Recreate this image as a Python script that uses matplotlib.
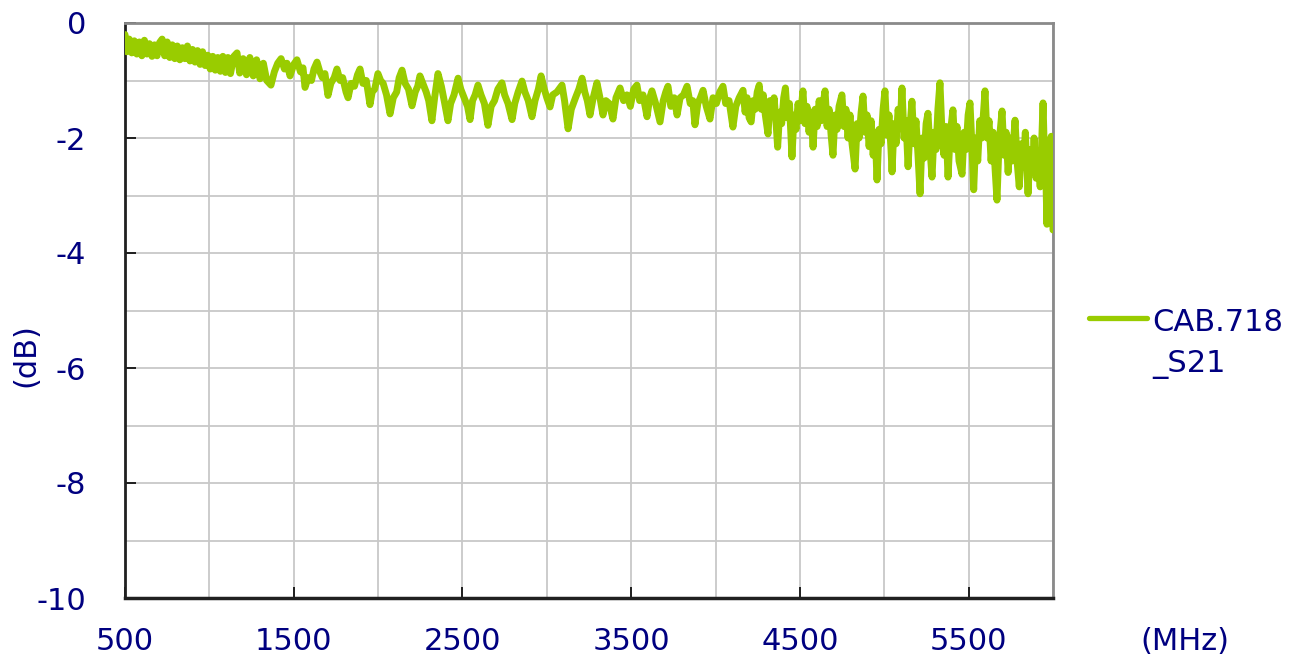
import matplotlib
matplotlib.use("Agg")
import matplotlib.pyplot as plt
from matplotlib.lines import Line2D
from matplotlib.ticker import MultipleLocator, FixedLocator

# ---- data ----
freq_mhz = [
    500, 510, 525, 540, 555, 570, 585, 600, 615, 630, 645, 660, 675, 690, 705,
    720, 735, 750, 765, 780, 795, 810, 825, 840, 855, 870, 885, 900, 915, 930,
    945, 960, 975, 990, 1005, 1020, 1035, 1050, 1065, 1080, 1095, 1110, 1125,
    1145, 1164, 1180, 1200, 1220, 1240, 1260, 1280, 1300, 1320, 1340, 1365,
    1385, 1405, 1425, 1445, 1460, 1478, 1500, 1519,
    1540, 1555, 1567, 1585, 1605, 1620, 1638, 1655, 1670, 1685, 1703, 1720,
    1740, 1756, 1775, 1790, 1810, 1822, 1840, 1860, 1878, 1893, 1910, 1930,
    1952, 1965, 1980, 1999, 2015, 2030, 2050, 2071, 2090, 2110, 2125, 2142,
    2160, 2180, 2201, 2220, 2235, 2248, 2265, 2285, 2300, 2319, 2335, 2355,
    2375, 2395, 2414, 2430, 2450, 2474, 2490, 2510, 2530, 2545, 2560, 2575,
    2592, 2610, 2630, 2651, 2670, 2690, 2710, 2734, 2750, 2770, 2794, 2810,
    2830, 2853, 2870, 2890, 2912, 2930, 2950, 2966, 2985, 3000, 3019, 3035,
    3060, 3090, 3105, 3126, 3145, 3170, 3190, 3209, 3225, 3240, 3256, 3275,
    3297, 3315, 3333, 3350, 3370, 3392, 3410, 3434, 3455, 3475, 3495, 3515,
    3534, 3550, 3570, 3594, 3610, 3623, 3645, 3671, 3690, 3705, 3718, 3735,
    3755, 3772, 3790, 3810, 3831, 3850, 3865, 3878, 3895, 3910, 3926, 3945,
    3967, 3985, 4005, 4025, 4044, 4060, 4080, 4103, 4120, 4140,
    4163, 4175, 4187, 4199, 4211, 4223, 4235, 4247, 4259, 4271, 4283, 4295,
    4311, 4323, 4335, 4347, 4359, 4368, 4380, 4392, 4404, 4414, 4426, 4438,
    4453, 4465, 4477, 4489, 4501, 4518, 4530, 4542, 4554, 4566, 4578, 4590,
    4602, 4614, 4626, 4638, 4649, 4661, 4673, 4685, 4696, 4708, 4720, 4732,
    4749, 4761, 4773, 4785, 4797, 4809, 4827, 4839, 4851, 4863, 4874, 4886,
    4898, 4910, 4922, 4934, 4946, 4957, 4969, 4981, 4993, 5004, 5016, 5028,
    5040, 5046, 5058, 5070, 5082, 5094, 5105, 5117, 5129, 5141, 5153, 5164,
    5176, 5188, 5200, 5212, 5224, 5236, 5248, 5259, 5271, 5283, 5295, 5307,
    5318, 5330, 5342, 5354, 5366, 5378, 5390, 5407, 5419, 5431, 5443, 5461,
    5473, 5485, 5497, 5508, 5519, 5530, 5542, 5554, 5566, 5578, 5597, 5609,
    5621, 5633, 5645, 5657, 5668, 5680, 5698, 5710, 5722, 5734, 5746, 5758,
    5775, 5787, 5800, 5812, 5824, 5836, 5852, 5864, 5876, 5888, 5900, 5912,
    5924, 5941, 5950, 5958, 5964, 5972, 5980, 5990, 6000,
]
s21_db = [
    -0.20, -0.50, -0.28, -0.52, -0.31, -0.54, -0.33, -0.57, -0.30, -0.54,
    -0.36, -0.58, -0.38, -0.57, -0.34, -0.28, -0.57, -0.33, -0.60, -0.38,
    -0.62, -0.40, -0.64, -0.43, -0.62, -0.40, -0.66, -0.46, -0.68, -0.48,
    -0.72, -0.50, -0.74, -0.56, -0.80, -0.58, -0.82, -0.60, -0.84, -0.58,
    -0.86, -0.60, -0.88, -0.58, -0.52, -0.87, -0.62, -0.90, -0.60, -0.92,
    -0.64, -0.97, -0.70, -1.00, -1.08, -0.85, -0.70, -0.62, -0.80, -0.70,
    -0.92, -0.72, -0.64,
    -0.85, -0.78, -1.12, -0.95, -1.00, -0.80, -0.68, -0.85, -0.95, -0.88,
    -1.26, -1.05, -0.95, -0.80, -1.00, -0.95, -1.20, -1.30, -1.05, -1.10,
    -0.90, -0.80, -1.05, -1.00, -1.42, -1.20, -1.15, -0.88, -1.00, -1.05,
    -1.25, -1.58, -1.30, -1.20, -0.95, -0.82, -1.05, -1.15, -1.44, -1.20,
    -1.10, -0.92, -1.05, -1.20, -1.35, -1.70, -1.30, -0.88, -1.10, -1.40,
    -1.70, -1.40, -1.25, -0.96, -1.15, -1.30, -1.45, -1.68, -1.35, -1.25,
    -1.08, -1.25, -1.40, -1.78, -1.45, -1.35, -1.15, -1.04, -1.25, -1.40,
    -1.68, -1.40, -1.20, -1.01, -1.20, -1.35, -1.63, -1.35, -1.15, -0.92,
    -1.15, -1.30, -1.46, -1.25, -1.20, -1.08, -1.35, -1.84, -1.50, -1.30,
    -1.15, -0.96, -1.20, -1.35, -1.60, -1.30, -1.04, -1.30, -1.60, -1.35,
    -1.40, -1.67, -1.30, -1.13, -1.35, -1.25, -1.45, -1.15, -1.08, -1.35,
    -1.25, -1.63, -1.30, -1.18, -1.40, -1.72, -1.35, -1.20, -1.10, -1.45,
    -1.30, -1.60, -1.30, -1.25, -1.10, -1.40, -1.35, -1.77, -1.40, -1.30,
    -1.17, -1.45, -1.67, -1.30, -1.40, -1.20, -1.10, -1.40, -1.35, -1.81,
    -1.45, -1.30,
    -1.17, -1.55, -1.30, -1.65, -1.72, -1.35, -1.50, -1.20, -1.08, -1.50,
    -1.25, -1.60, -1.93, -1.35, -1.60, -1.30, -1.75, -2.16, -1.55, -1.75,
    -1.30, -1.13, -1.65, -1.40, -2.33, -1.60, -1.85, -1.40, -1.70, -1.18,
    -1.75, -1.45, -1.90, -1.55, -2.16, -1.50, -1.80, -1.35, -1.70, -1.40,
    -1.18, -1.80, -1.50, -1.95, -2.30, -1.60, -1.85, -1.45, -1.25, -1.80,
    -1.50, -2.00, -1.60, -2.10, -2.54, -1.75, -2.00, -1.55, -1.27, -1.90,
    -1.60, -2.15, -1.70, -2.30, -1.90, -2.73, -1.85, -2.10, -1.50, -1.18,
    -1.95, -1.60, -2.20, -2.59, -1.75, -2.10, -1.50, -1.80, -1.13, -2.00,
    -1.70, -2.50, -1.80, -1.36, -2.10, -1.70, -2.30, -2.97, -2.00, -2.35,
    -1.75, -1.57, -2.20, -2.68, -1.90, -2.20, -1.50, -1.04, -1.90, -2.30,
    -1.80, -2.68, -1.95, -1.51, -2.20, -1.80, -2.40, -2.63, -1.90, -2.20,
    -1.60, -1.39, -2.10, -2.90, -2.00, -2.40, -1.70, -2.00, -1.18, -2.00,
    -1.70, -2.40, -1.90, -2.55, -3.08, -2.10, -1.53, -2.30, -1.90, -2.60,
    -2.00, -2.40, -1.69, -2.40, -2.85, -2.10, -2.50, -1.90, -2.97, -2.20,
    -2.60, -2.00, -2.70, -2.30, -2.85, -1.39, -2.40, -2.70, -3.50, -2.60,
    -2.10, -1.97, -3.60,
]
series_label = ["CAB.718", "_S21"]
x_ticks = [500, 1500, 2500, 3500, 4500, 5500]
y_ticks = [0, -2, -4, -6, -8, -10]

# ---- style ----
navy = "#000080"
green = "#99CC00"
plt.rcParams["font.family"] = ["DejaVu Sans"]
plt.rcParams["axes.unicode_minus"] = False
FS = 22

W, H = 1298, 664
fig = plt.figure(figsize=(W / 100, H / 100), dpi=100)
ax = fig.add_axes([125 / W, 1 - 598 / H, 928 / W, 575 / H])

ax.plot(freq_mhz, s21_db, color=green, lw=5.0, solid_joinstyle="round",
        solid_capstyle="round", zorder=3)

ax.set_xlim(500, 6000)
ax.set_ylim(-10, 0)

ax.xaxis.set_major_locator(FixedLocator(x_ticks))
ax.xaxis.set_minor_locator(MultipleLocator(500))
ax.yaxis.set_major_locator(FixedLocator(y_ticks))
ax.yaxis.set_minor_locator(MultipleLocator(1))

ax.grid(which="both", color="#c8c8c8", lw=1.3, zorder=0)
ax.set_axisbelow(True)

ax.tick_params(which="major", direction="in", length=8, width=1.2, color="black",
               labelsize=FS, labelcolor=navy)
ax.tick_params(axis="x", which="major", pad=21)
ax.tick_params(axis="y", which="major", pad=28)
ax.tick_params(which="minor", length=0)

ax.spines["left"].set_color("#202020")
ax.spines["left"].set_linewidth(2)
ax.spines["bottom"].set_color("#202020")
ax.spines["bottom"].set_linewidth(2.5)
ax.spines["top"].set_color("#8a8a8a")
ax.spines["top"].set_linewidth(2)
ax.spines["right"].set_color("#8a8a8a")
ax.spines["right"].set_linewidth(2)

# axis titles
fig.text(26 / W, 1 - 355 / H, "(dB)", color=navy, fontsize=FS, rotation=90,
         ha="center", va="center")
fig.text(1185 / W, 1 - 641 / H, "(MHz)", color=navy, fontsize=FS,
         ha="center", va="center")

# legend
fig.add_artist(Line2D([1089 / W, 1147 / W], [1 - 318 / H, 1 - 318 / H],
                      transform=fig.transFigure, color=green, lw=3.8,
                      solid_capstyle="round"))
fig.text(1152 / W, 1 - 331 / H, series_label[0], color=navy, fontsize=FS,
         ha="left", va="baseline")
fig.text(1152 / W, 1 - 372 / H, series_label[1], color=navy, fontsize=FS,
         ha="left", va="baseline")

fig.savefig("out.png", dpi=100)
